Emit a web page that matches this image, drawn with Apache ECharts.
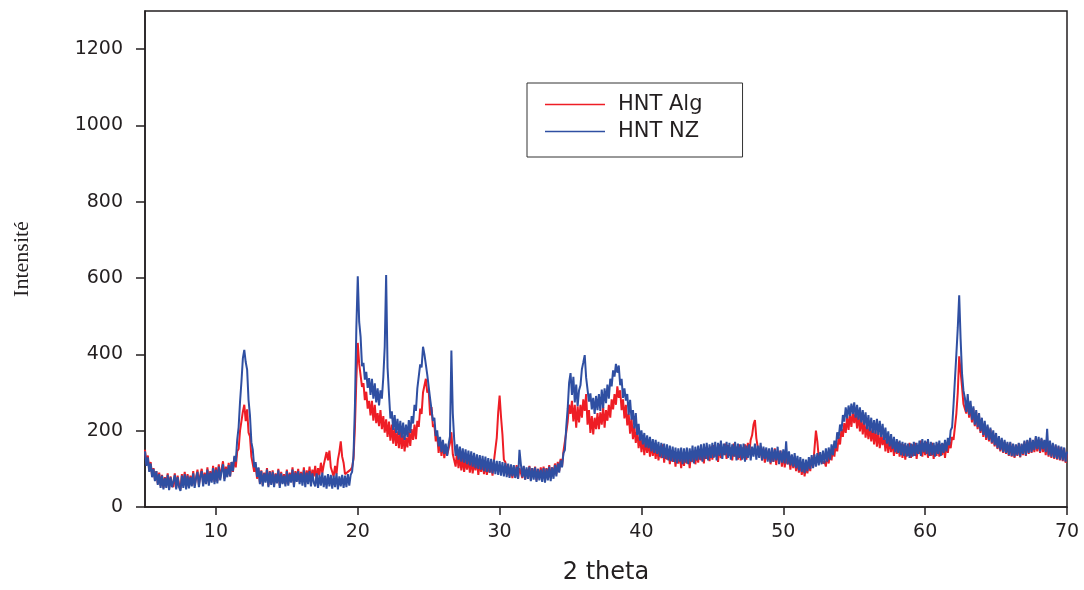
<!DOCTYPE html>
<html>
<head>
<meta charset="utf-8">
<script src="https://cdn.jsdelivr.net/npm/echarts@6/dist/echarts.min.js"></script>
<style>html,body{margin:0;padding:0;background:#fff}#c{width:1084px;height:590px}</style>
</head>
<body>
<div id="c"></div>
<script>
// 2 theta sampling: 5.0 .. 70.0, step 0.1 (each row = one degree)
const thetaStart = 5;
const thetaStep = 0.1;
const xTicks = [10, 20, 30, 40, 50, 60, 70];
const yTicks = [0, 200, 400, 600, 800, 1000, 1200];
const seriesNames = ['HNT Alg', 'HNT NZ'];

const hntAlg = [
150,112,135,95,118,82,102,72,94,62,
90,55,84,50,78,56,88,48,80,60,
52,88,50,82,60,46,86,56,92,52,
86,54,82,60,94,56,76,98,58,84,
100,60,90,66,104,62,94,70,108,66,
104,68,112,76,100,120,74,106,82,116,
80,118,92,130,104,146,152,200,205,250,
268,225,256,195,185,132,130,92,112,74,
102,64,96,58,90,70,102,56,94,62,
96,58,88,68,100,56,92,64,86,60,
98,62,90,70,104,58,94,72,100,66,
92,68,104,62,96,74,106,68,98,80,
108,70,102,84,116,88,110,112,144,122,
148,104,102,80,108,86,124,144,172,132,
116,86,90,92,96,98,104,126,210,335,
430,375,378,315,325,280,302,258,278,240,
278,226,268,220,246,212,254,204,238,195,
230,184,224,174,216,166,206,160,198,154,
198,152,188,146,182,156,198,160,204,176,
216,178,226,210,258,244,300,296,336,300,
306,240,262,210,216,172,188,142,176,134,
172,128,156,136,134,168,196,138,136,106,
146,102,134,96,130,92,124,98,128,90,
124,88,118,96,126,84,116,92,120,86,
114,84,110,90,118,82,120,124,182,248,
292,236,190,124,118,88,110,80,106,76,
104,78,110,74,102,104,76,106,72,100,
80,108,72,102,78,106,70,100,76,104,
78,106,72,102,82,110,76,104,84,114,
86,118,94,126,106,146,144,196,224,268,
244,278,224,268,208,264,222,268,234,282,
252,296,216,254,194,238,190,234,204,246,
204,248,216,262,208,254,226,268,234,282,
256,296,268,316,286,306,254,282,232,268,
214,244,192,232,178,212,168,202,154,188,
144,184,136,176,142,172,132,166,134,164,
126,162,122,156,128,164,116,154,124,152,
112,148,118,146,106,144,114,142,102,138,
108,144,114,138,102,142,118,148,112,144,
116,152,122,148,114,156,126,152,120,158,
124,162,132,154,118,164,128,156,136,166,
126,162,134,156,122,166,132,158,124,164,
122,156,128,164,124,168,142,176,188,216,
228,180,176,134,160,122,154,116,150,124,
148,112,146,118,154,110,144,122,148,106,
144,104,138,112,134,98,136,102,128,94,
124,90,118,84,114,80,108,88,120,94,
130,106,154,200,172,128,118,124,114,120,
106,140,114,148,122,156,132,166,146,182,
164,204,184,220,194,236,202,244,210,248,
220,250,206,244,198,234,190,226,182,216,
178,212,172,206,164,202,158,196,154,188,
162,190,146,184,142,178,144,174,134,168,
139,171,132,166,129,164,124,161,134,168,
129,164,134,168,126,162,139,174,132,166,
136,171,129,164,134,168,126,161,134,166,
132,164,136,166,129,164,142,171,154,184,
176,210,245,300,395,355,315,270,275,245,
280,234,268,222,258,212,248,204,238,194,
226,184,218,176,211,172,204,166,194,159,
186,152,181,146,176,142,171,139,166,134,
168,132,164,129,161,134,166,130,164,136,
171,134,174,139,178,142,171,144,181,146,
176,142,178,144,171,136,174,132,166,129,
164,126,161,124,158,122,156,120,154,116,
140
];

const hntNZ = [
146,108,130,92,114,78,100,68,94,58,
86,50,82,46,76,50,84,44,78,52,
48,84,46,78,52,42,82,50,86,46,
82,49,78,54,88,50,76,92,52,80,
94,54,86,60,98,56,90,64,102,60,
98,62,106,70,94,112,68,100,78,110,
80,118,94,134,119,176,209,276,329,390,
412,380,360,280,240,170,150,104,118,79,
104,60,94,54,88,64,98,52,92,58,
92,52,86,62,96,50,88,60,82,54,
94,56,86,64,98,52,90,66,94,60,
88,56,96,52,90,60,94,54,88,64,
54,88,50,84,56,90,52,82,48,86,
54,84,48,82,52,88,46,80,54,84,
50,82,52,86,56,84,92,135,265,470,
605,485,446,369,378,334,354,312,338,294,
336,284,324,274,311,266,306,284,340,420,
608,365,296,232,251,202,241,194,231,189,
226,182,221,176,216,184,228,194,238,219,
268,252,311,314,374,366,420,400,405,346,
351,284,286,226,234,186,201,159,184,144,
176,139,166,134,164,185,410,245,176,134,
164,124,158,119,154,116,151,112,148,109,
146,106,142,102,138,100,136,98,134,94,
132,92,128,90,126,88,124,86,121,84,
120,82,118,80,116,78,114,76,112,80,
110,76,106,74,150,112,78,108,72,104,
74,106,68,102,72,104,66,100,70,98,
66,102,64,100,70,106,68,104,74,110,
80,114,90,122,104,141,149,211,259,326,
351,294,341,274,321,264,306,319,361,379,
398,339,336,276,298,256,286,244,291,254,
296,252,308,259,311,272,321,284,336,316,
358,342,375,352,371,319,336,286,311,279,
296,242,281,229,254,206,246,189,218,174,
201,164,194,156,188,154,184,146,178,142,
176,139,171,132,168,129,166,126,164,122,
161,120,158,118,156,114,154,119,156,112,
154,116,156,112,154,119,161,114,158,122,
161,124,164,119,166,126,168,122,164,129,
168,129,171,122,168,134,174,126,166,136,
171,129,168,124,164,132,171,122,166,129,
164,124,166,119,161,129,164,122,158,132,
166,124,161,129,168,122,158,126,156,119,
154,116,156,119,151,122,158,112,148,116,
151,114,172,112,146,109,138,106,141,102,
134,96,131,92,126,89,124,94,131,100,
136,102,138,106,141,109,144,112,148,114,
154,119,156,124,164,136,174,154,196,179,
216,199,241,224,261,232,266,239,271,244,
274,234,268,229,261,222,254,216,248,204,
241,199,234,194,228,192,231,189,226,184,
218,176,208,166,198,159,191,152,184,144,
178,142,174,136,171,134,168,132,166,129,
166,132,171,134,168,139,174,134,178,144,
174,139,178,134,171,136,168,132,171,139,
174,134,168,142,176,146,181,162,201,209,
268,335,400,470,555,440,350,305,286,249,
296,242,278,229,264,216,254,209,246,199,
234,189,226,182,216,176,208,169,201,162,
194,154,186,149,181,144,176,142,171,136,
171,134,166,132,164,136,168,132,166,139,
174,136,176,142,181,144,176,149,186,152,
184,146,181,152,176,144,205,136,174,132,
168,129,164,126,161,124,158,122,156,119,
145
];

function pairs(vals) {
  return vals.map((v, i) => [+(thetaStart + i * thetaStep).toFixed(1), v]);
}

const chart = echarts.init(document.getElementById('c'), null, {renderer: 'canvas'});
const axisColor = '#231f20';
const tickFont = 'DejaVu Sans';
chart.setOption({
  animation: false,
  backgroundColor: '#fff',
  grid: {left: 145, right: 17, top: 11, bottom: 80, show: true, borderColor: axisColor, borderWidth: 1.5, backgroundColor: 'transparent'},
  legend: {
    data: seriesNames,
    orient: 'vertical',
    left: 527, top: 83,
    padding: [11, 40, 15, 18],
    itemGap: 6,
    itemWidth: 60, itemHeight: 1.5,
    icon: 'rect',
    borderColor: '#333', borderWidth: 1,
    textStyle: {fontFamily: tickFont, fontSize: 21, color: '#231f20', padding: [0, 0, 0, 8]}
  },
  xAxis: {
    type: 'value', min: 5, max: 70,
    name: '2 theta', nameLocation: 'middle', nameGap: 54,
    nameTextStyle: {fontFamily: tickFont, fontSize: 24, color: axisColor},
    axisLine: {show: true, lineStyle: {color: axisColor, width: 1.5}},
    axisTick: {show: true, inside: false, length: 8, customValues: xTicks, lineStyle: {color: axisColor, width: 1.5}},
    axisLabel: {customValues: xTicks, margin: 16, fontFamily: tickFont, fontSize: 19, color: axisColor, formatter: v => String(v)},
    splitLine: {show: false}
  },
  yAxis: {
    type: 'value', min: 0, max: 1300,
    name: 'Intensité', nameLocation: 'middle', nameGap: 112,
    nameTextStyle: {fontFamily: 'Liberation Serif', fontSize: 22, color: axisColor},
    axisLine: {show: true, lineStyle: {color: axisColor, width: 1.5}},
    axisTick: {show: true, inside: false, length: 9, customValues: yTicks, lineStyle: {color: axisColor, width: 1.5}},
    axisLabel: {customValues: yTicks, margin: 22, fontFamily: tickFont, fontSize: 19, color: axisColor, formatter: v => String(v)},
    splitLine: {show: false}
  },
  series: [
    {name: seriesNames[0], type: 'line', data: pairs(hntAlg), symbol: 'none', color: '#ee1d25', lineStyle: {width: 2, color: '#ee1d25'}, z: 2},
    {name: seriesNames[1], type: 'line', data: pairs(hntNZ), symbol: 'none', color: '#2f4fa2', lineStyle: {width: 2, color: '#2f4fa2'}, z: 3}
  ]
});
</script>
</body>
</html>
